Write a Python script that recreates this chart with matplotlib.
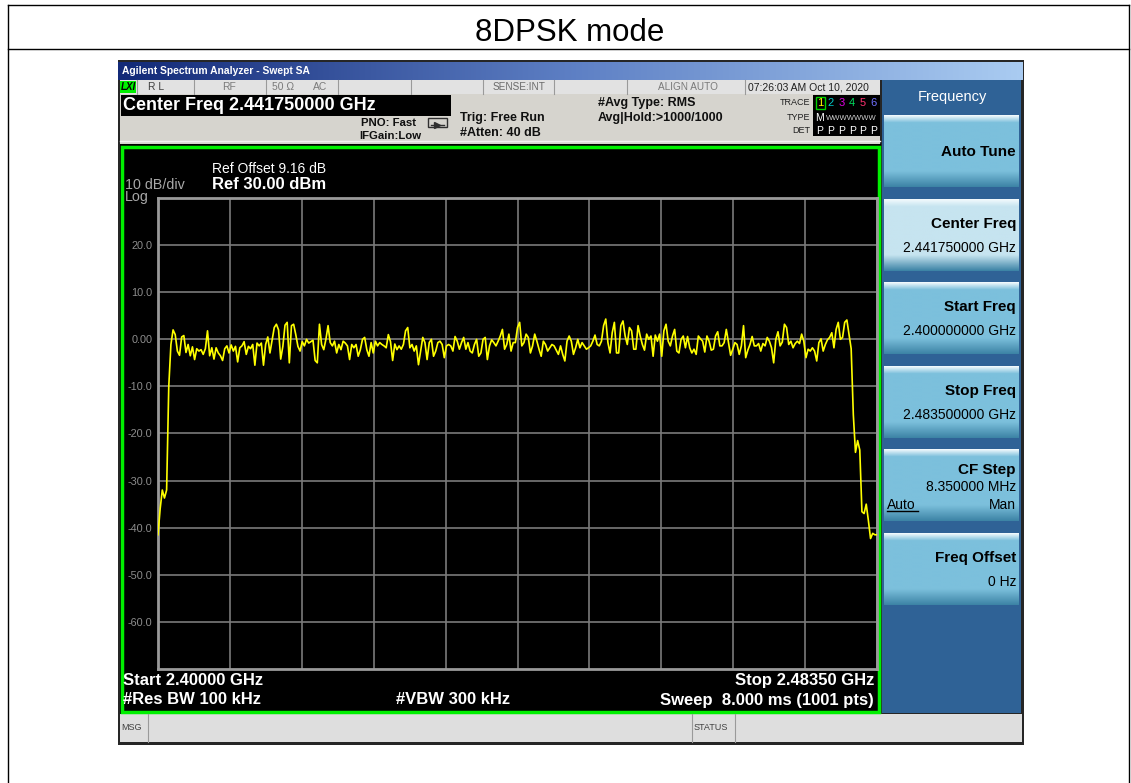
import numpy as np
import matplotlib
matplotlib.use("Agg")
import matplotlib.pyplot as plt
from matplotlib.patches import Rectangle
from matplotlib.colors import to_rgb

plt.rcParams['font.family'] = ['Liberation Sans', 'DejaVu Sans']

W, H = 1131, 783

# sweep settings
start_ghz = 2.400
stop_ghz = 2.4835
ref_level = 30.0
bottom_level = -70.0

# trace 1 (dBm) at 0.25 MHz steps from start to stop
trace_dbm = [
    -41.5, -36.0, -32.0, -33.7, -32.0, -10.0, -1.1, 2.0, 1.0, -2.5,
    -3.4, 0.5, 0.8, -2.8, -1.1, -3.5, -1.6, -4.3, -2.0, -2.5,
    -2.2, -3.2, -2.0, 1.8, -3.5, -1.8, -4.2, -1.8, -2.9, -3.5,
    -4.5, -2.0, -1.4, -2.9, -1.2, -2.5, -1.5, -4.8, -1.8, -1.4,
    -0.5, -3.2, -1.5, -2.0, -1.1, -5.5, -0.8, -1.4, -0.8, -5.5,
    -1.1, 0.5, -2.9, -0.2, 2.5, 3.2, 2.0, -4.2, -1.5, 3.0,
    3.6, -5.0, 2.9, 3.2, 1.0, -1.5, -2.5, -0.5, -1.4, 0.0,
    -0.8, -0.5, -0.2, -4.5, -5.0, 3.2, -1.1, -2.2, 0.0, 2.9,
    -0.7, -1.4, -0.4, -2.9, -1.1, -2.2, -0.4, -0.8, -1.4, -4.3,
    -1.1, -1.8, -1.1, -3.6, -2.2, 0.0, 0.4, -2.2, -3.6, -0.7,
    -2.9, -0.4, -1.4, -0.7, -1.1, -1.4, -1.8, 1.0, -0.5, -4.5,
    -1.0, -2.2, -1.4, -2.1, -1.1, 1.8, 2.5, -1.8, -1.1, -2.5,
    -1.4, -5.4, -2.5, 0.4, -0.7, -4.3, -0.7, 0.0, -3.6, -2.5,
    -0.7, -0.4, -1.1, -3.9, -1.4, -1.1, -1.4, -2.5, 0.6, -0.4,
    -2.1, -0.7, 0.4, -2.1, -0.7, -2.5, -2.9, -1.1, 0.0, -3.6,
    -2.9, 0.0, 0.4, -4.3, -1.4, -0.1, -0.7, -1.4, -0.4, 0.7,
    2.1, -2.1, -1.1, 1.1, -2.5, -0.7, -0.7, 2.5, 3.6, -1.4,
    -0.7, 1.1, 0.4, -2.9, -1.4, 1.1, -0.4, -2.1, -3.6, -0.4,
    -1.1, -2.5, -1.8, -1.1, -1.4, -2.3, -3.2, -1.4, -3.2, -4.6,
    -0.4, 0.7, -0.4, -3.2, -1.8, 0.0, -1.8, -0.7, -1.4, -2.1,
    -1.8, -1.4, -0.4, 0.9, -1.1, -1.4, -0.4, 2.9, 4.3, -0.7,
    -2.9, 1.4, 3.6, -2.9, -2.9, 2.9, 3.9, 0.7, -1.1, 2.5,
    1.8, -2.1, -2.1, 2.9, 0.7, -1.1, -2.3, 1.1, 0.0, 0.7,
    -3.6, 0.9, -0.4, 1.1, -3.6, 1.8, 3.2, -0.4, -1.4, 0.7,
    2.1, -2.5, -2.9, 0.0, 0.7, -1.8, 0.6, -1.8, -2.9, -2.1,
    -3.2, 0.7, 0.1, -0.4, -2.7, 0.7, -0.4, -2.3, -2.1, 0.7,
    1.6, -1.4, -1.4, -0.7, 2.1, -0.7, -3.4, -2.1, -0.7, -1.1,
    -3.2, -1.4, 2.9, -3.9, -2.3, -1.1, 0.6, -1.4, -1.4, -0.9,
    -2.5, -0.9, -1.4, 0.4, -0.4, -1.8, -5.0, 0.0, 1.6, -1.4,
    -0.6, 3.2, 2.5, -1.1, -0.4, -1.8, -0.9, -0.4, -0.9, 1.1,
    -0.4, -3.9, -2.1, -2.5, -1.8, -2.5, -4.6, -0.7, 0.1, -2.5,
    -1.1, -0.1, 0.4, 1.4, -1.8, 2.1, 3.6, 0.0, 0.4, 3.6,
    4.1, 1.0, -2.0, -16.0, -24.0, -21.5, -23.5, -36.6, -37.0, -35.0,
    -38.5, -42.3, -41.2, -41.5, -41.5,
]

y_tick_vals = [20, 10, 0, -10, -20, -30, -40, -50, -60]
y_tick_text = ["20.0", "10.0", "0.00", "-10.0", "-20.0", "-30.0", "-40.0", "-50.0", "-60.0"]

softkey_titles = ["Auto Tune", "Center Freq", "Start Freq", "Stop Freq", "CF Step", "Freq Offset"]
softkey_values = ["", "2.441750000 GHz", "2.400000000 GHz", "2.483500000 GHz", "8.350000 MHz", "0 Hz"]

trace_digits = ["1", "2", "3", "4", "5", "6"]
trace_colors = ["#ffff00", "#00c8c8", "#e000e0", "#00e060", "#ff3070", "#7070ff"]

fig = plt.figure(figsize=(W / 100, H / 100), dpi=100)
fig.patch.set_facecolor("white")
bg = fig.add_axes([0, 0, 1, 1])
bg.axis("off")


def rect(x0, y0, x1, y1, fc, ec="none", lw=0, z=1):
    bg.add_patch(Rectangle((x0, y0), x1 - x0, y1 - y0, facecolor=fc, edgecolor=ec, lw=lw, zorder=z))


def grad(x0, y0, x1, y1, stops, vertical=True, z=2):
    pos = np.linspace(0, 1, 80)
    ps = [p for p, _ in stops]
    cols = np.array([to_rgb(c) for _, c in stops])
    arr = np.stack([np.interp(pos, ps, cols[:, i]) for i in range(3)], axis=-1)
    arr = arr[:, None, :] if vertical else arr[None, :, :]
    bg.imshow(arr, extent=(x0, x1, y1, y0), aspect="auto", interpolation="bilinear", zorder=z)


def txt(x, y, s, size=9, color="black", weight="normal", ha="left", va="center", z=5, **kw):
    bg.text(x, y, s, fontsize=size, color=color, fontweight=weight, ha=ha, va=va, zorder=z, **kw)


# page table border + caption
bg.plot([8, 8], [5, 783], color="black", lw=1, zorder=1)
bg.plot([1129, 1129], [5, 783], color="black", lw=1, zorder=1)
bg.plot([8, 1129], [5, 5], color="black", lw=1, zorder=1)
bg.plot([8, 1129], [49, 49], color="black", lw=1, zorder=1)
txt(570, 33, "8DPSK mode", size=22.5, ha="center")

# analyzer window frame
rect(118, 60, 1024, 745, "#262626")
grad(118, 62, 1023, 80, [(0, "#132a78"), (0.5, "#5d7fc4"), (1, "#a9cbf1")], vertical=False)
txt(122, 71, "Agilent Spectrum Analyzer - Swept SA", size=7.4, color="white", weight="bold", z=6)

# status row
rect(120, 80, 880, 94, "#e2e2e2", z=2)
for xd in [137, 194, 266, 338, 411, 483, 554, 627, 745]:
    bg.plot([xd, xd], [80, 94], color="#9a9a9a", lw=0.8, zorder=3)
rect(120, 81, 136, 93, "#00f000", z=3)
txt(121, 87, "LXI", size=7, weight="bold", style="italic", z=4)
txt(148, 87, "R L", size=7.4, color="#404040")
txt(229, 87, "RF", size=7.4, color="#7a7a7a", ha="center")
txt(283, 87, "50 Ω", size=7.4, color="#7a7a7a", ha="center")
txt(320, 87, "AC", size=7.4, color="#7a7a7a", ha="center")
txt(519, 87, "SENSE:INT", size=7.2, color="#6a6a6a", ha="center")
txt(688, 87, "ALIGN AUTO", size=7.2, color="#7a7a7a", ha="center")
txt(748, 87, "07:26:03 AM Oct 10, 2020", size=7.5, color="#202020")

# settings row
rect(120, 94, 880, 144, "#d6d4ce", z=2)
bg.plot([120, 880], [141, 141], color="#f2f2f2", lw=1, zorder=3)
rect(121, 95, 451, 116, "black", z=3)
txt(123, 106, "Center Freq 2.441750000 GHz", size=13, color="white", weight="bold")
txt(416, 122.5, "PNO: Fast", size=8.2, weight="bold", ha="right", color="#101010")
txt(421, 136, "IFGain:Low", size=8.2, weight="bold", ha="right", color="#101010")
bg.add_patch(Rectangle((428, 118), 19, 9, facecolor="none", edgecolor="#303030", lw=1, zorder=4))
bg.plot([431, 444], [124.5, 124.5], color="#303030", lw=1, zorder=4)
bg.plot([437], [124.5], marker=">", color="#303030", ms=4, zorder=4)
txt(460, 118, "Trig: Free Run", size=9, weight="bold", color="#101010")
txt(460, 133, "#Atten: 40 dB", size=9, weight="bold", color="#101010")
txt(598, 103, "#Avg Type: RMS", size=9, weight="bold", color="#101010")
txt(598, 118, "Avg|Hold:>1000/1000", size=9, weight="bold", color="#101010")
txt(810, 102.5, "TRACE", size=6.5, ha="right", color="#202020")
txt(810, 117.5, "TYPE", size=6.5, ha="right", color="#202020")
txt(810, 130.5, "DET", size=6.5, ha="right", color="#202020")
rect(813, 95, 880, 136, "black", z=3)
for i, (d, c) in enumerate(zip(trace_digits, trace_colors)):
    xc = 820 + i * 10.7
    if i == 0:
        bg.add_patch(Rectangle((xc - 4.5, 96.5), 9, 12, facecolor="none", edgecolor="#00d000", lw=1, zorder=4))
    txt(xc, 103, d, size=8, color=c, ha="center")
    txt(xc, 130.5, "P", size=7.5, color="white", ha="center")
txt(820, 118, "M", size=7.5, color="white", ha="center")
txt(826, 118, "WWWWWWW", size=5.5, color="#d0d0d0")

# measurement display
rect(120, 144, 881, 714, "black", z=2)
bg.add_patch(Rectangle((122, 147), 757, 565, facecolor="none", edgecolor="#00f000", lw=2.5, zorder=3))
txt(125, 185, "10 dB/div", size=10.3, color="#a8a8a8")
txt(125, 197.5, "Log", size=10.3, color="#a8a8a8")
txt(212, 169, "Ref Offset 9.16 dB", size=10, color="white")
txt(212, 184.5, "Ref 30.00 dBm", size=12, color="white", weight="bold")
txt(123, 680.5, "Start 2.40000 GHz", size=12, color="white", weight="bold")
txt(123, 700, "#Res BW 100 kHz", size=12, color="white", weight="bold")
txt(396, 700, "#VBW 300 kHz", size=12, color="white", weight="bold")
txt(874, 680.5, "Stop 2.48350 GHz", size=12, color="white", weight="bold", ha="right")
txt(874, 700, "Sweep  8.000 ms (1001 pts)", size=12, color="white", weight="bold", ha="right")

# softkey panel
rect(882, 80, 1021, 713, "#2f6296", z=2)
txt(952, 97.5, "Frequency", size=10.5, color="white", ha="center")
for i, (title, val) in enumerate(zip(softkey_titles, softkey_values)):
    y0 = 115 + i * 83.6
    y1 = y0 + 72
    main = "#c6e4f0" if i == 1 else "#7cc0dc"
    grad(884, y0, 1019, y1, [(0, "#f2fafd"), (0.1, main), (0.78, main), (1, "#3d84a6")])
    if i == 0:
        txt(1016, y0 + 37, title, size=11, weight="bold", ha="right")
    elif i == 4:
        txt(1016, y0 + 20.5, title, size=11, weight="bold", ha="right")
        txt(1016, y0 + 38, val, size=10, ha="right")
        txt(887, y0 + 55.5, "Auto", size=10)
        bg.plot([887, 918], [y0 + 62, y0 + 62], color="black", lw=1, zorder=5)
        txt(1016, y0 + 55.5, "Man", size=10, ha="right")
    else:
        txt(1016, y0 + 25, title, size=11, weight="bold", ha="right")
        txt(1016, y0 + 49, val, size=10, ha="right")

# message / status bar
rect(120, 714, 1022, 742, "#dedede", z=2)
bg.plot([148, 148], [714, 742], color="#9a9a9a", lw=0.8, zorder=3)
bg.plot([692, 692], [714, 742], color="#9a9a9a", lw=0.8, zorder=3)
bg.plot([735, 735], [714, 742], color="#9a9a9a", lw=0.8, zorder=3)
txt(121, 727, "MSG", size=6.5, color="#404040")
txt(694, 727, "STATUS", size=6.5, color="#404040")

bg.set_xlim(0, W)
bg.set_ylim(H, 0)

# graticule + trace
ax = fig.add_axes([158 / W, 1 - 669 / H, 719 / W, 471 / H])
ax.set_facecolor("none")
freq = np.linspace(start_ghz, stop_ghz, len(trace_dbm))
ax.plot(freq, trace_dbm, color="#ffff00", lw=1.2, zorder=3)
ax.set_xlim(start_ghz, stop_ghz)
ax.set_ylim(bottom_level, ref_level)
ax.set_xticks(np.linspace(start_ghz, stop_ghz, 11))
ax.set_xticklabels([])
ax.set_yticks(y_tick_vals)
ax.set_yticklabels(y_tick_text)
ax.tick_params(length=0, pad=4, labelsize=7.8, labelcolor="#8e8e8e")
ax.grid(True, color="#7a7a7a", lw=1.2)
for sp in ax.spines.values():
    sp.set_color("#9a9a9a")
    sp.set_linewidth(2)

fig.savefig("out.png", dpi=100, facecolor="white")
